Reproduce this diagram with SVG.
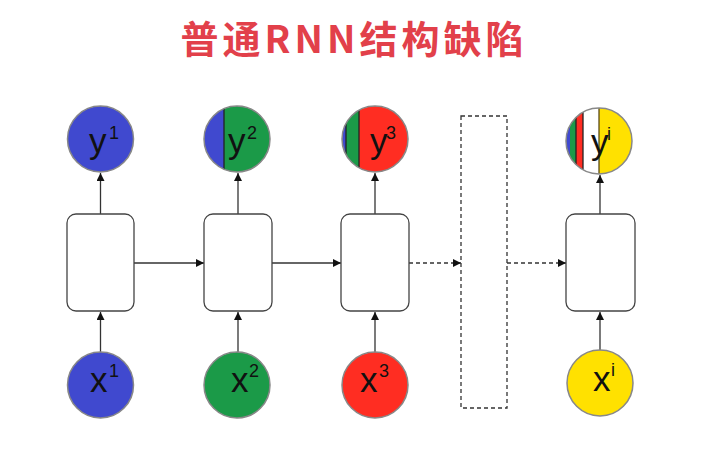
<svg xmlns="http://www.w3.org/2000/svg" width="702" height="456" viewBox="0 0 702 456">
<style>
.title{font-family:"Noto Sans CJK SC","Liberation Sans",sans-serif;font-weight:bold;font-size:38px;letter-spacing:4px;fill:#e2404a}
.box{fill:#fff;stroke:#444;stroke-width:1.3}
.circ{stroke:#888;stroke-width:1.5}
.div{stroke:#222;stroke-width:1.3}
.lbl{font-family:"Liberation Sans",Arial,sans-serif;font-size:35px;fill:#111}
.sup{font-family:"Liberation Sans",Arial,sans-serif;font-size:18px;fill:#111}
.conn{stroke:#333;stroke-width:1.3;fill:none}
.dash{stroke-dasharray:4 3}
</style>
<defs>
<marker id="ah" viewBox="0 0 10 10" refX="10" refY="5" markerWidth="8" markerHeight="8" markerUnits="userSpaceOnUse" orient="auto">
<path d="M0,0 L10,5 L0,10 z" fill="#111"/>
</marker>
<clipPath id="c2"><circle cx="237" cy="139" r="33"/></clipPath>
<clipPath id="c3"><circle cx="375" cy="139" r="33"/></clipPath>
<clipPath id="c4"><circle cx="599" cy="141" r="33"/></clipPath>
</defs>
<text class="title" x="354" y="53" text-anchor="middle">普通RNN结构缺陷</text>

<g id="connectors">
<line class="conn" x1="100.5" y1="352" x2="100.5" y2="312" marker-end="url(#ah)"/>
<line class="conn" x1="238" y1="352" x2="238" y2="312" marker-end="url(#ah)"/>
<line class="conn" x1="375" y1="352" x2="375" y2="312" marker-end="url(#ah)"/>
<line class="conn" x1="600" y1="351" x2="600" y2="312" marker-end="url(#ah)"/>
<line class="conn" x1="100.5" y1="214" x2="100.5" y2="173" marker-end="url(#ah)"/>
<line class="conn" x1="238" y1="214" x2="238" y2="173" marker-end="url(#ah)"/>
<line class="conn" x1="375" y1="214" x2="375" y2="173" marker-end="url(#ah)"/>
<line class="conn" x1="600" y1="214" x2="600" y2="175" marker-end="url(#ah)"/>
<line class="conn" x1="134" y1="263" x2="204" y2="263" marker-end="url(#ah)"/>
<line class="conn" x1="272" y1="263" x2="341" y2="263" marker-end="url(#ah)"/>
<line class="conn dash" x1="409" y1="263" x2="461" y2="263" marker-end="url(#ah)"/>
<line class="conn dash" x1="507" y1="263" x2="566" y2="263" marker-end="url(#ah)"/>
</g>

<g id="box1"><rect class="box" x="67" y="214" width="67" height="97" rx="9"/></g>
<g id="box2"><rect class="box" x="204" y="214" width="68" height="97" rx="9"/></g>
<g id="box3"><rect class="box" x="341" y="214" width="68" height="97" rx="9"/></g>
<g id="gap"><rect class="conn dash" x="461" y="116" width="46" height="292"/></g>
<g id="box4"><rect class="box" x="566" y="214" width="69" height="97" rx="9"/></g>

<g id="y1">
<circle class="circ" cx="100.5" cy="139" r="33" fill="#4049cf"/>
<text class="lbl" x="89" y="153">y</text><text class="sup" x="109" y="139">1</text>
</g>
<g id="y2">
<g clip-path="url(#c2)">
<rect x="200" y="100" width="24" height="80" fill="#4049cf"/>
<rect x="224" y="100" width="60" height="80" fill="#1b9a48"/>
<line class="div" x1="224" y1="100" x2="224" y2="180"/>
</g>
<circle class="circ" cx="237" cy="139" r="33" fill="none"/>
<text class="lbl" x="228" y="153">y</text><text class="sup" x="247" y="139">2</text>
</g>
<g id="y3">
<g clip-path="url(#c3)">
<rect x="335" y="100" width="11" height="80" fill="#4049cf"/>
<rect x="346" y="100" width="13" height="80" fill="#1b9a48"/>
<rect x="359" y="100" width="60" height="80" fill="#ff2d22"/>
<line class="div" x1="346" y1="100" x2="346" y2="180"/>
<line class="div" x1="359" y1="100" x2="359" y2="180"/>
</g>
<circle class="circ" cx="375" cy="139" r="33" fill="none"/>
<text class="lbl" x="370" y="153">y</text><text class="sup" x="386" y="139">3</text>
</g>
<g id="yi">
<g clip-path="url(#c4)">
<rect x="560" y="100" width="10" height="85" fill="#4049cf"/>
<rect x="570" y="100" width="6" height="85" fill="#1b9a48"/>
<rect x="576" y="100" width="7" height="85" fill="#ff2d22"/>
<rect x="583" y="100" width="16" height="85" fill="#fff"/>
<rect x="599" y="100" width="40" height="85" fill="#ffe100"/>
<line class="div" x1="576" y1="100" x2="576" y2="185"/>
<line class="div" x1="583" y1="100" x2="583" y2="185"/>
<line x1="599" y1="100" x2="599" y2="185" stroke="#5a4a1a" stroke-width="1.3"/>
</g>
<circle class="circ" cx="599" cy="141" r="33" fill="none"/>
<text class="lbl" x="591" y="154">y</text><text class="sup" x="607" y="140">i</text>
</g>

<g id="x1">
<circle class="circ" cx="100.5" cy="385" r="33" fill="#4049cf"/>
<text class="lbl" x="90" y="392">x</text><text class="sup" x="109" y="377">1</text>
</g>
<g id="x2">
<circle class="circ" cx="237" cy="385" r="33" fill="#1b9a48"/>
<text class="lbl" x="231" y="392">x</text><text class="sup" x="249" y="377">2</text>
</g>
<g id="x3">
<circle class="circ" cx="375" cy="385" r="33" fill="#ff2d22"/>
<text class="lbl" x="360" y="392">x</text><text class="sup" x="379" y="377">3</text>
</g>
<g id="xi">
<circle class="circ" cx="600" cy="383" r="33" fill="#ffe100"/>
<text class="lbl" x="593" y="391">x</text><text class="sup" x="611" y="376">i</text>
</g>
</svg>
